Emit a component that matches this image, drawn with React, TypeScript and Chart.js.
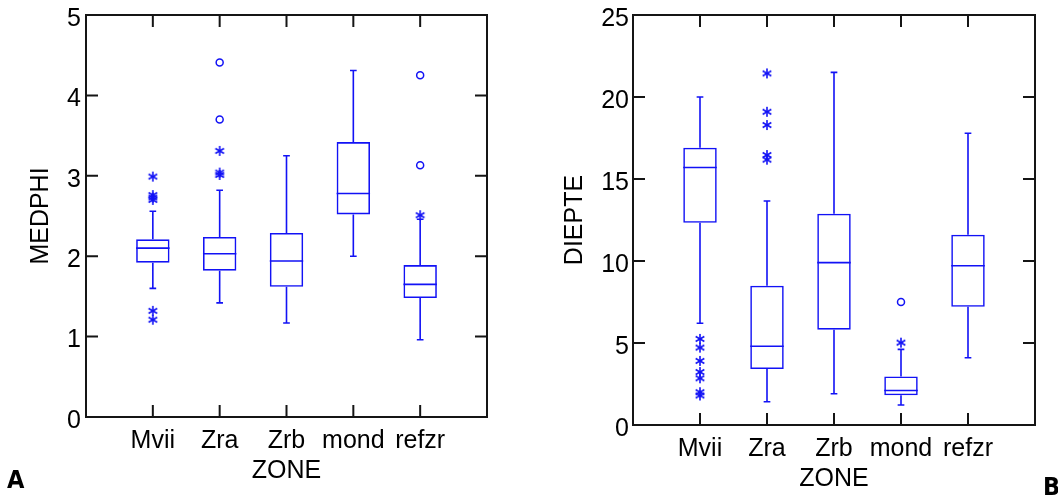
import React, { useEffect, useRef } from 'react';
import { Chart, registerables } from 'chart.js';

Chart.register(...registerables);

// ---------------- data ----------------
const categories = ['Mvii', 'Zra', 'Zrb', 'mond', 'refzr'];

// Panel A : MEDPHI
const medphiTicks = [0, 1, 2, 3, 4, 5];
const medphiLow = [1.6, 1.42, 1.17, 2.0, 0.96];
const medphiQ1 = [1.92, 1.82, 1.62, 2.52, 1.48];
const medphiMedian = [2.1, 2.03, 1.94, 2.78, 1.65];
const medphiQ3 = [2.21, 2.24, 2.29, 3.42, 1.89];
const medphiHigh = [2.56, 2.82, 3.25, 4.31, 2.46];
const medphiStars = [[2.99, 2.76, 2.73, 2.7, 1.32, 1.21], [3.31, 3.04, 3.01], [], [], [2.51]];
const medphiCircles = [[], [4.41, 3.7], [], [], [4.25, 3.13]];

// Panel B : DIEPTE
const diepteTicks = [0, 5, 10, 15, 20, 25];
const diepteLow = [6.2, 1.42, 1.91, 1.22, 4.1];
const diepteQ1 = [12.33, 3.41, 5.81, 1.81, 7.21];
const diepteMedian = [15.7, 4.8, 9.9, 2.1, 9.71];
const diepteQ3 = [16.91, 8.49, 12.88, 2.96, 11.6];
const diepteHigh = [20.0, 13.66, 21.5, 4.61, 17.79];
const diepteStars = [[5.25, 4.72, 3.91, 3.23, 2.85, 2.0, 1.8], [21.44, 19.1, 18.29, 16.46, 16.18], [], [5.02], []];
const diepteCircles = [[], [], [], [7.5], []];

// ---------------- styles ----------------
const BLUE = 'rgb(18,18,245)';
const FRAME = '#151515';
const FONT = '"Liberation Sans", Arial, Helvetica, sans-serif';
const BOX_HALF = 0.25;
const CAP_HALF = 0.05;
const TICK_LEN = 12;

function makeStar(): HTMLCanvasElement {
  const c = document.createElement('canvas');
  c.width = 12;
  c.height = 12;
  const g = c.getContext('2d')!;
  g.strokeStyle = BLUE;
  g.lineWidth = 1.6;
  const cx = 6, cy = 6, r = 5;
  for (const deg of [90, 30, 150]) {
    const a = (deg * Math.PI) / 180;
    g.beginPath();
    g.moveTo(cx - r * Math.cos(a), cy - r * Math.sin(a));
    g.lineTo(cx + r * Math.cos(a), cy + r * Math.sin(a));
    g.stroke();
  }
  return c;
}

const framePlugin = {
  id: 'frameTicks',
  afterDraw(chart: any) {
    const { ctx, chartArea: a, scales } = chart;
    ctx.save();
    ctx.strokeStyle = FRAME;
    ctx.lineWidth = 2;
    ctx.strokeRect(a.left, a.top, a.right - a.left, a.bottom - a.top);
    ctx.beginPath();
    for (const t of scales.x.ticks) {
      const px = scales.x.getPixelForValue(t.value);
      ctx.moveTo(px, a.top);
      ctx.lineTo(px, a.top + TICK_LEN);
      ctx.moveTo(px, a.bottom);
      ctx.lineTo(px, a.bottom - TICK_LEN);
    }
    for (const t of scales.y.ticks) {
      const py = scales.y.getPixelForValue(t.value);
      ctx.moveTo(a.left, py);
      ctx.lineTo(a.left + TICK_LEN, py);
      ctx.moveTo(a.right, py);
      ctx.lineTo(a.right - TICK_LEN, py);
    }
    ctx.stroke();
    ctx.restore();
  },
};

interface PanelSpec {
  title: string;
  ticks: number[];
  low: number[];
  q1: number[];
  median: number[];
  q3: number[];
  high: number[];
  stars: number[][];
  circles: number[][];
  padRight: number;
  yWidth: number;
  xHeight: number;
  yTitlePad: number;
  xTitlePad: number;
  yTickPad: number;
}

function buildConfig(spec: PanelSpec, star: HTMLCanvasElement): any {
  const boxes = categories.map((_, i) => ({ x: i + 1, y: [spec.q1[i], spec.q3[i]] }));
  const medians = categories.flatMap((_, i) => [
    { x: i + 1 - BOX_HALF, y: spec.median[i] },
    { x: i + 1 + BOX_HALF, y: spec.median[i] },
    { x: i + 1, y: null },
  ]);
  const whiskers = categories.flatMap((_, i) => {
    const x = i + 1;
    return [
      { x, y: spec.q3[i] }, { x, y: spec.high[i] }, { x, y: null },
      { x: x - CAP_HALF, y: spec.high[i] }, { x: x + CAP_HALF, y: spec.high[i] }, { x, y: null },
      { x, y: spec.q1[i] }, { x, y: spec.low[i] }, { x, y: null },
      { x: x - CAP_HALF, y: spec.low[i] }, { x: x + CAP_HALF, y: spec.low[i] }, { x, y: null },
    ];
  });
  const starPts = spec.stars.flatMap((vals, i) => vals.map((v) => ({ x: i + 1, y: v })));
  const circlePts = spec.circles.flatMap((vals, i) => vals.map((v) => ({ x: i + 1, y: v })));
  const tickFont = { family: FONT, size: 25, weight: 'normal' as const };

  return {
    type: 'bar',
    data: {
      datasets: [
        {
          type: 'bar',
          data: boxes,
          backgroundColor: 'rgba(255,255,255,0)',
          borderColor: BLUE,
          borderWidth: 1.6,
          borderSkipped: false,
          categoryPercentage: 1,
          barPercentage: BOX_HALF * 2,
        },
        {
          type: 'line',
          data: medians,
          borderColor: BLUE,
          borderWidth: 1.6,
          pointRadius: 0,
          spanGaps: false,
          fill: false,
          tension: 0,
        },
        {
          type: 'line',
          data: whiskers,
          borderColor: BLUE,
          borderWidth: 1.6,
          pointRadius: 0,
          spanGaps: false,
          fill: false,
          tension: 0,
        },
        {
          type: 'scatter',
          data: starPts,
          pointStyle: star,
          pointRadius: 5,
          showLine: false,
        },
        {
          type: 'scatter',
          data: circlePts,
          pointStyle: 'circle',
          pointRadius: 3.5,
          borderWidth: 1.5,
          borderColor: BLUE,
          backgroundColor: 'rgba(255,255,255,0)',
          showLine: false,
        },
      ],
    },
    options: {
      responsive: false,
      animation: false,
      events: [],
      layout: { padding: { left: 0, right: spec.padRight, top: 15, bottom: 0 } },
      plugins: { legend: { display: false }, tooltip: { enabled: false } },
      scales: {
        x: {
          type: 'linear',
          offset: false,
          min: 0,
          max: categories.length + 1,
          grid: { display: false, drawTicks: false, offset: false },
          border: { display: false },
          afterBuildTicks: (s: any) => {
            s.ticks = categories.map((_, i) => ({ value: i + 1 }));
          },
          afterFit: (s: any) => {
            s.height = spec.xHeight;
            s.paddingLeft = 0;
            s.paddingRight = 0;
          },
          ticks: {
            autoSkip: false,
            maxRotation: 0,
            minRotation: 0,
            padding: 9,
            color: '#000',
            font: tickFont,
            callback: (v: number) => categories[Math.round(v) - 1] ?? '',
          },
          title: {
            display: true,
            text: 'ZONE',
            color: '#000',
            font: tickFont,
            padding: { top: 0, bottom: spec.xTitlePad },
          },
        },
        y: {
          type: 'linear',
          min: spec.ticks[0],
          max: spec.ticks[spec.ticks.length - 1],
          grid: { display: false, drawTicks: false },
          border: { display: false },
          afterBuildTicks: (s: any) => {
            s.ticks = spec.ticks.map((v) => ({ value: v }));
          },
          afterFit: (s: any) => {
            s.width = spec.yWidth;
            s.paddingTop = 0;
            s.paddingBottom = 0;
          },
          ticks: {
            autoSkip: false,
            padding: spec.yTickPad,
            labelOffset: 4,
            color: '#000',
            font: tickFont,
            callback: (v: number) => String(v),
          },
          title: {
            display: true,
            text: spec.title,
            color: '#000',
            font: tickFont,
            padding: { top: spec.yTitlePad, bottom: 0 },
          },
        },
      },
    },
    plugins: [framePlugin],
  };
}

const panelA: PanelSpec = {
  title: 'MEDPHI',
  ticks: medphiTicks,
  low: medphiLow,
  q1: medphiQ1,
  median: medphiMedian,
  q3: medphiQ3,
  high: medphiHigh,
  stars: medphiStars,
  circles: medphiCircles,
  padRight: 42,
  yWidth: 86,
  xHeight: 80,
  yTitlePad: 26,
  xTitlePad: 11,
  yTickPad: 5,
};

const panelB: PanelSpec = {
  title: 'DIEPTE',
  ticks: diepteTicks,
  low: diepteLow,
  q1: diepteQ1,
  median: diepteMedian,
  q3: diepteQ3,
  high: diepteHigh,
  stars: diepteStars,
  circles: diepteCircles,
  padRight: 23,
  yWidth: 104,
  xHeight: 72,
  yTitlePad: 31,
  xTitlePad: 3,
  yTickPad: 4,
};

function Panel({ spec, left }: { spec: PanelSpec; left: number }) {
  const ref = useRef<HTMLCanvasElement>(null);
  useEffect(() => {
    const star = makeStar();
    const chart = new Chart(ref.current!, buildConfig(spec, star));
    return () => chart.destroy();
  }, [spec]);
  return (
    <canvas
      ref={ref}
      width={529}
      height={497}
      style={{ position: 'absolute', left, top: 0, width: 529, height: 497, display: 'block' }}
    />
  );
}

const letterStyle: React.CSSProperties = {
  position: 'absolute',
  fontFamily: '"DejaVu Sans Condensed", "DejaVu Sans", sans-serif',
  fontStretch: 'condensed',
  fontWeight: 'bold',
  fontSize: 25,
  lineHeight: '25px',
  color: '#000',
};

export default function App() {
  return (
    <div
      style={{
        position: 'fixed',
        left: 0,
        top: 0,
        width: 1058,
        height: 497,
        background: '#fff',
        overflow: 'hidden',
      }}
    >
      <Panel spec={panelA} left={0} />
      <Panel spec={panelB} left={529} />
      <div style={{ ...letterStyle, left: 7, top: 467 }}>A</div>
      <div style={{ ...letterStyle, left: 1043, top: 474 }}>B</div>
    </div>
  );
}
